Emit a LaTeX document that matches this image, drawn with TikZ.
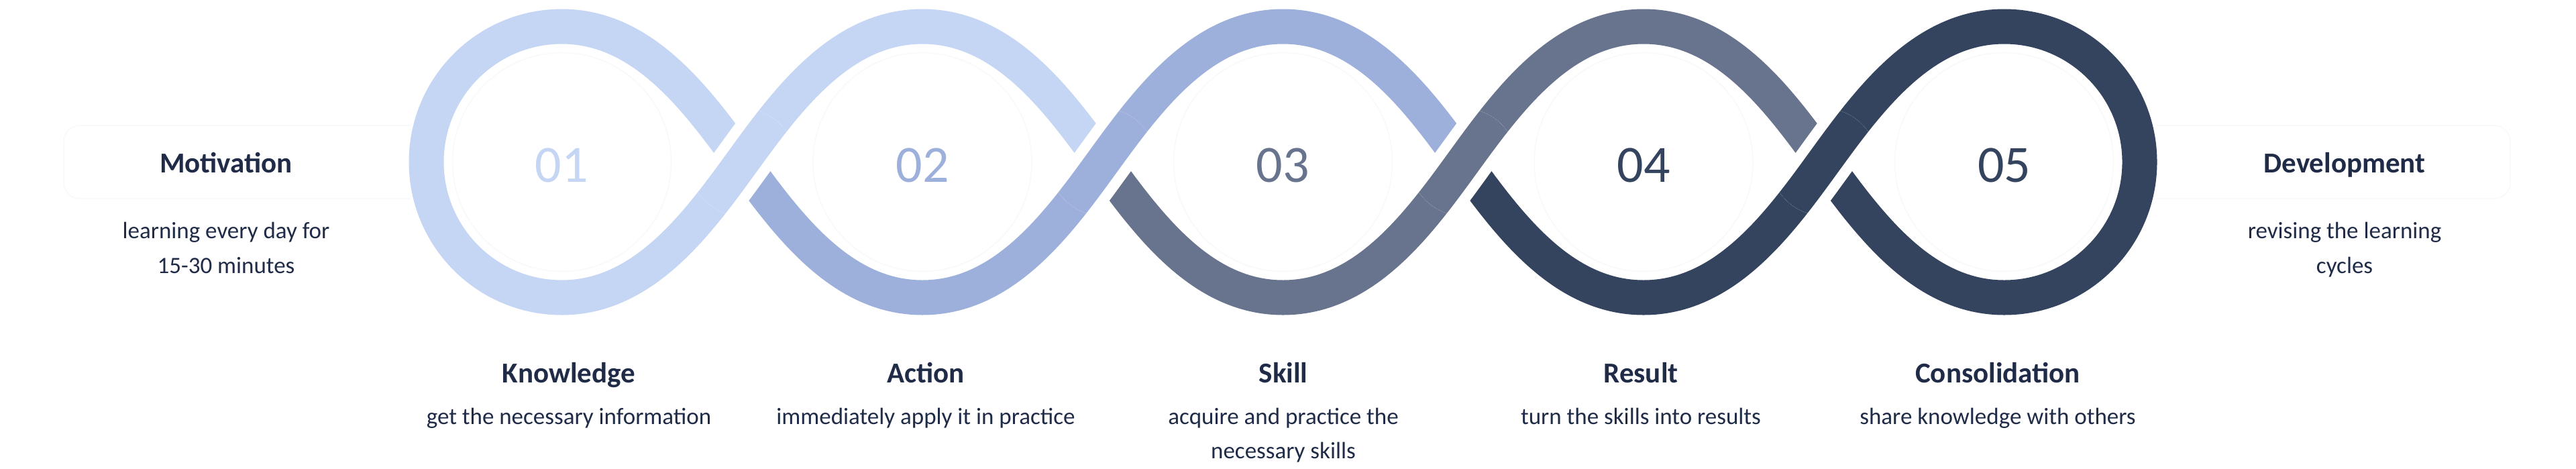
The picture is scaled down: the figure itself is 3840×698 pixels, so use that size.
\documentclass[tikz,border=0pt]{standalone}
\usepackage{fontspec}
\setmainfont{Carlito}
\definecolor{cA}{HTML}{C5D6F4}
\definecolor{cB}{HTML}{9DB0DB}
\definecolor{cC}{HTML}{68748D}
\definecolor{cD}{HTML}{34445F}
\definecolor{txt}{HTML}{1F2B47}
\definecolor{faintc}{HTML}{F8F9FA}
\begin{document}
\begin{tikzpicture}[x=0.25pt,y=-0.25pt,
  band/.style={line width=13pt},
  casing/.style={white,line width=21pt},
  faint/.style={draw=faintc,line width=0.4pt},
  num/.style={inner sep=0pt,anchor=base,font=\fontsize{19.5pt}{20pt}\selectfont},
  ttl/.style={inner sep=0pt,anchor=base,text=txt,font=\fontsize{10.75pt}{13pt}\selectfont\bfseries},
  body/.style={inner sep=0pt,anchor=base,text=txt,font=\fontsize{8.75pt}{13pt}\selectfont}]
\useasboundingbox (0,0) rectangle (3840,698);
\fill[white] (0,0) rectangle (3840,698);
\def\Xa{837.5}\def\Xb{1375}\def\Xc{1912.5}\def\Xd{2450}\def\Xe{2987.5}
\coordinate (C1) at ({\Xa+268.75},241.5);
\coordinate (C2) at ({\Xb+268.75},241.5);
\coordinate (C3) at ({\Xc+268.75},241.5);
\coordinate (C4) at ({\Xd+268.75},241.5);
% faint decorations
\foreach \X in {\Xa,\Xb,\Xc,\Xd,\Xe} \draw[faint] (\X,241.5) circle[radius=163];
\draw[faint,rounded corners=6pt] (612,187) -- (95,187) -- (95,296) -- (612,296);
\draw[faint,rounded corners=6pt] (3215,187) -- (3742,187) -- (3742,296) -- (3215,296);
% piece 1
\draw[band,cA] (C1) .. controls ({\Xa+202.3},150) and ({\Xa+122},39.5) .. (\Xa,39.5)
  .. controls ({\Xa-111.6},39.5) and ({\Xa-202},129.9) .. ({\Xa-202},241.5)
  .. controls ({\Xa-202},353.1) and ({\Xa-111.6},443.5) .. (\Xa,443.5)
  .. controls ({\Xa+122},443.5) and ({\Xa+202.3},333) .. (C1)
  .. controls ({\Xa+335.2},150) and ({\Xa+415.5},39.5) .. (\Xb,39.5)
  .. controls ({\Xb+122},39.5) and ({\Xb+202.3},150) .. (C2);
% piece 2
\draw[band,cB] (C1) .. controls ({\Xa+335.2},333) and ({\Xa+415.5},443.5) .. (\Xb,443.5)
  .. controls ({\Xb+122},443.5) and ({\Xb+202.3},333) .. (C2)
  .. controls ({\Xb+335.2},150) and ({\Xb+415.5},39.5) .. (\Xc,39.5)
  .. controls ({\Xc+122},39.5) and ({\Xc+202.3},150) .. (C3);
% piece 3
\draw[band,cC] (C2) .. controls ({\Xb+335.2},333) and ({\Xb+415.5},443.5) .. (\Xc,443.5)
  .. controls ({\Xc+122},443.5) and ({\Xc+202.3},333) .. (C3)
  .. controls ({\Xc+335.2},150) and ({\Xc+415.5},39.5) .. (\Xd,39.5)
  .. controls ({\Xd+122},39.5) and ({\Xd+202.3},150) .. (C4);
% piece 4
\draw[band,cD] (C3) .. controls ({\Xc+335.2},333) and ({\Xc+415.5},443.5) .. (\Xd,443.5)
  .. controls ({\Xd+122},443.5) and ({\Xd+202.3},333) .. (C4)
  .. controls ({\Xd+335.2},150) and ({\Xd+415.5},39.5) .. (\Xe,39.5)
  .. controls ({\Xe+111.6},39.5) and ({\Xe+202},129.9) .. ({\Xe+202},241.5)
  .. controls ({\Xe+202},353.1) and ({\Xe+111.6},443.5) .. (\Xe,443.5)
  .. controls ({\Xd+415.5},443.5) and ({\Xd+335.2},333) .. (C4);
% over-crossings
\foreach \k/\X/\col in {1/\Xa/cA,2/\Xb/cB,3/\Xc/cC,4/\Xd/cD}{
  \begin{scope}
    \clip (C\k) circle[radius=80];
    \draw[casing] (\X,443.5) .. controls ({\X+122},443.5) and ({\X+202.3},333) .. (C\k)
      .. controls ({\X+335.2},150) and ({\X+415.5},39.5) .. ({\X+537.5},39.5);
    \draw[band,\col] (\X,443.5) .. controls ({\X+122},443.5) and ({\X+202.3},333) .. (C\k)
      .. controls ({\X+335.2},150) and ({\X+415.5},39.5) .. ({\X+537.5},39.5);
  \end{scope}
}
% numbers
\node[num,text=cA] (n1) at (\Xa,271) {01};
\node[num,text=cB] (n2) at (\Xb,271) {02};
\node[num,text=cC] (n3) at (\Xc,271) {03};
\node[num,text=cD] (n4) at (\Xd,271) {04};
\node[num,text=cD] (n5) at (\Xe,271) {05};
% side texts
\node[ttl] (mot) at (337,257) {Motivation};
\node[body] (mot1) at (337,355) {learning every day for};
\node[body] (mot2) at (337,407) {15-30 minutes};
\node[ttl] (dev) at (3495,257) {Development};
\node[body] (dev1) at (3495,355) {revising the learning};
\node[body] (dev2) at (3495,407) {cycles};
% bottom texts
\node[ttl] (t1) at (848,570) {Knowledge};
\node[body] (d1) at (848,632) {get the necessary information};
\node[ttl] (t2) at (1380,570) {Action};
\node[body] (d2) at (1380,632) {immediately apply it in practice};
\node[ttl] (t3) at (1913,570) {Skill};
\node[body] (d3) at (1913,632) {acquire and practice the};
\node[body] (d3b) at (1913,683) {necessary skills};
\node[ttl] (t4) at (2446,570) {Result};
\node[body] (d4) at (2446,632) {turn the skills into results};
\node[ttl] (t5) at (2978,570) {Consolidation};
\node[body] (d5) at (2978,632) {share knowledge with others};
\end{tikzpicture}
\end{document}
